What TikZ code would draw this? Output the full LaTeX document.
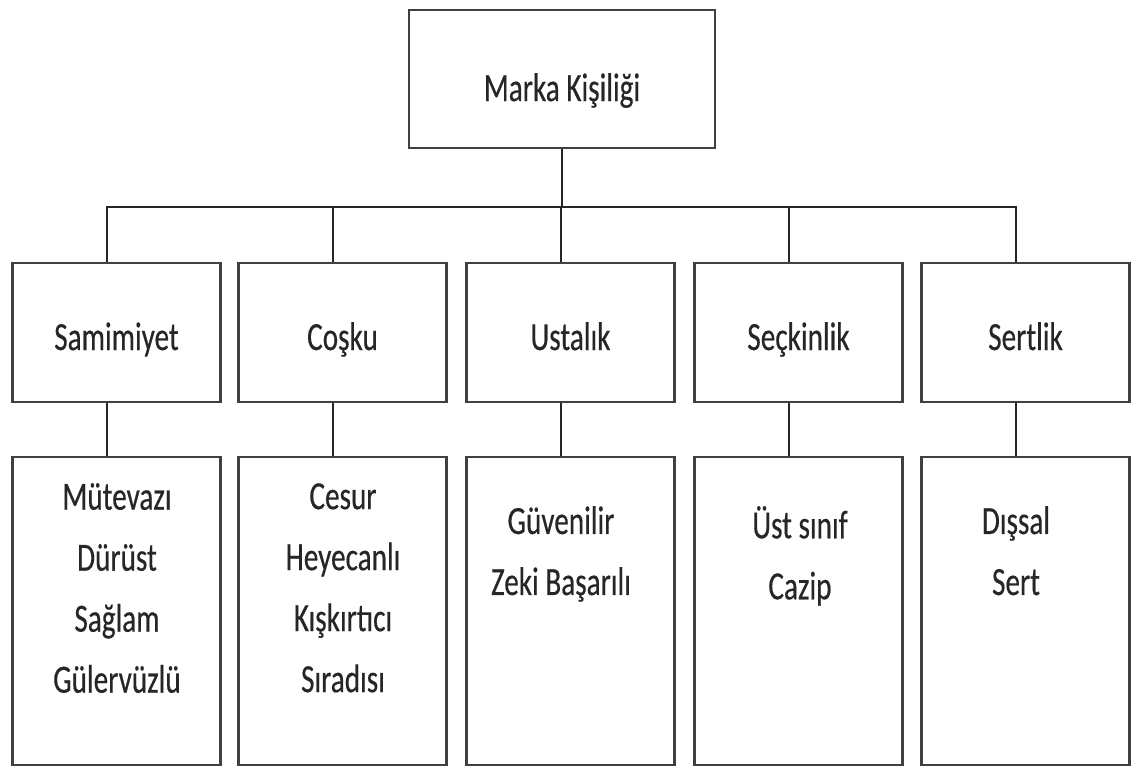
\documentclass[tikz,border=0pt]{standalone}
\usepackage{fontspec}
\setmainfont{Carlito}[FakeStretch=0.73, FakeBold=0.4]
\newcommand{\boxfont}{\fontsize{40}{61}\selectfont}

\begin{document}
\begin{tikzpicture}[
    x=1pt, y=-1pt,
    box/.style={
        draw=black!75,
        line width=2.4pt,
        inner sep=0pt,
        minimum width=208pt,
        text depth=0pt,
        text=black!85,
        font=\boxfont
    },
    topbox/.style={box, minimum width=306pt, minimum height=138pt, text height=44pt},
    midbox/.style={box, minimum height=139pt, text height=35pt},
    lowbox/.style={box, minimum height=308pt},
    items/.style={
        align=center,
        inner sep=0pt,
        anchor=north,
        text=black!85,
        font=\boxfont,
        execute at begin node={\rule{0pt}{34pt}}
    },
    conn/.style={line width=1.8pt, draw=black!85}
]
    \useasboundingbox (0,0) rectangle (1131,768);

    % root
    \node[topbox] (root) at (562,79) {Marka Kişiliği};

    % dimensions
    \node[midbox] (m1) at (116.5,332.5) {Samimiyet};
    \node[midbox] (m2) at (342.5,332.5) {Coşku};
    \node[midbox] (m3) at (570.5,332.5) {Ustalık};
    \node[midbox] (m4) at (798.5,332.5) {Seçkinlik};
    \node[midbox] (m5) at (1025.5,332.5) {Sertlik};

    % traits
    \node[lowbox] (b1) at (116.5,611) {};
    \node[lowbox] (b2) at (342.5,611) {};
    \node[lowbox] (b3) at (570.5,611) {};
    \node[lowbox] (b4) at (798.5,611) {};
    \node[lowbox] (b5) at (1025.5,611) {};

    \node[items] (t1) at (117,483) {Mütevazı\\Dürüst\\Sağlam\\Gülervüzlü};
    \node[items] (t2) at (343,483) {Cesur\\Heyecanlı\\Kışkırtıcı\\Sıradısı};
    \node[items] (t3) at (561,506) {Güvenilir\\Zeki Başarılı};
    \node[items] (t4) at (800,506) {Üst sınıf\\Cazip};
    \node[items] (t5) at (1016,506) {Dışsal\\Sert};

    \coordinate (bus) at (562,207);
    \draw[conn] (root.south) -- (bus);
    \foreach \i in {1,...,5} {
        \draw[conn] ([xshift=-9.5pt]m\i.north) |- (bus);
        \draw[conn] ([xshift=-9.5pt]m\i.south) -- ([xshift=-9.5pt]b\i.north);
    }
\end{tikzpicture}
\end{document}
